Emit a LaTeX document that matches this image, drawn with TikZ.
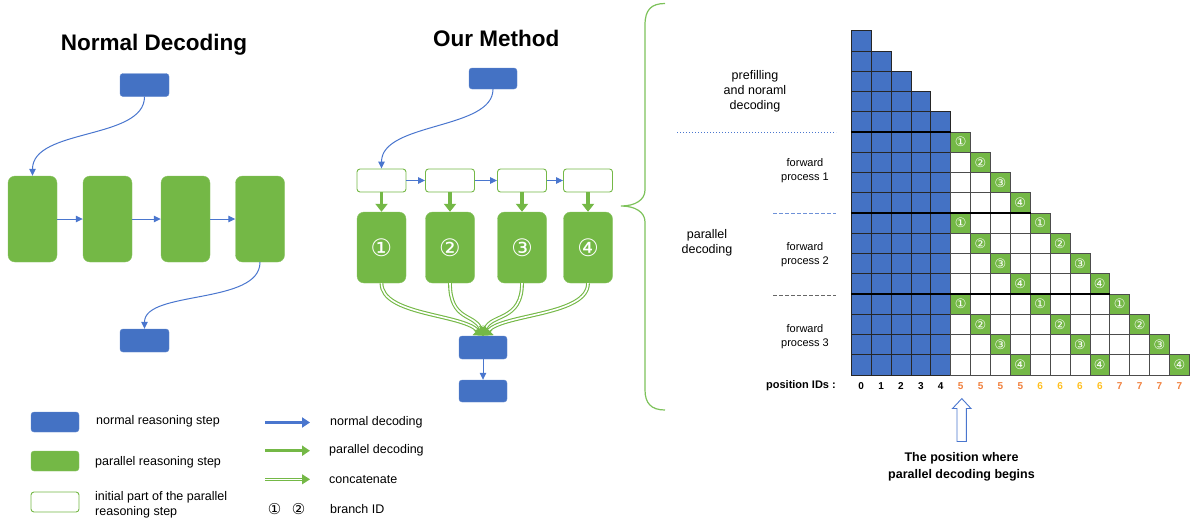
\documentclass[tikz,border=0pt]{standalone}
\usepackage{fontspec}
\setmainfont{Liberation Sans}
\newfontfamily\symfont{DejaVu Sans}
\usetikzlibrary{arrows.meta}
\definecolor{nblue}{HTML}{4472C4}
\definecolor{ngreen}{HTML}{74B846}
\definecolor{lgreen}{HTML}{7DC25A}
\definecolor{nblueline}{HTML}{4A76CE}
\definecolor{porange}{HTML}{F07F3C}
\definecolor{pgold}{HTML}{FFBF1F}
\newcommand\cnum[1]{{\symfont\ifcase#1\or ①\or ②\or ③\or ④\fi}}
\begin{document}
\begin{tikzpicture}[x=1pt,y=-1pt,
  bbox/.style={fill=nblue, draw=nblue!85!white, rounded corners=3pt, minimum width=49pt, minimum height=23pt, inner sep=0pt},
  gbox/.style={fill=ngreen, draw=ngreen!85!white, rounded corners=7pt, minimum width=49pt, inner sep=0pt, text=white},
  wbox/.style={fill=white, draw=ngreen, line width=0.9pt, rounded corners=3pt, minimum width=49pt, minimum height=23pt, inner sep=0pt},
  narrow/.style={draw=nblueline, line width=1pt, -{Triangle[length=7pt,width=6.5pt]}},
  parrow/.style={draw=ngreen, line width=3.5pt, -{Triangle[length=8pt,width=12pt]}},
  concat/.style={draw=ngreen, line width=1.1pt, double=white, double distance=1.6pt, -{Triangle[length=8pt,width=14pt]}},
  title/.style={font=\bfseries\fontsize{22.5}{26}\selectfont, inner sep=0pt, anchor=base},
  lbl/.style={font=\fontsize{12.5}{15}\selectfont, inner sep=0pt, align=center},
  slbl/.style={font=\fontsize{11}{14}\selectfont, inner sep=0pt, align=center},
  bcell/.style={fill=nblue, draw=black!85, line width=0.7pt, minimum width=19.88pt, minimum height=20.25pt, inner sep=0pt},
  gcell/.style={fill=ngreen, draw=black!70, line width=0.7pt, minimum width=19.88pt, minimum height=20.25pt, inner sep=0pt, text=white, font=\fontsize{13}{13}\selectfont},
  wcell/.style={fill=white, draw=black!70, line width=0.7pt, minimum width=19.88pt, minimum height=20.25pt, inner sep=0pt},
  pid/.style={font=\bfseries\fontsize{10}{12}\selectfont, inner sep=0pt},
  bracestyle/.style={draw=lgreen, line width=1.2pt},
  legarrow/.style={line width=2.8pt, -{Triangle[length=8pt,width=10pt]}},
]
\useasboundingbox (0,0) rectangle (1198,520);

% ---------- Normal decoding ----------
\node[title] (t1) at (154,50) {Normal Decoding};
\node[bbox] (ntop) at (144.5,85) {};
\node[gbox, minimum height=86pt] (g1) at (32.5,219) {};
\node[gbox, minimum height=86pt] (g2) at (107.5,219) {};
\node[gbox, minimum height=86pt] (g3) at (185.5,219) {};
\node[gbox, minimum height=86pt] (g4) at (260,219) {};
\node[bbox] (nbot) at (144.5,340.5) {};
\draw[narrow] (ntop.south) .. controls (144.5,140) and (32.5,128) .. (g1.north);
\draw[narrow] (g1.east) -- (g2.west);
\draw[narrow] (g2.east) -- (g3.west);
\draw[narrow] (g3.east) -- (g4.west);
\draw[narrow] (g4.south) .. controls (260,305) and (144.5,290) .. (nbot.north);

% ---------- Our method ----------
\node[title] (t2) at (496.3,46.7) {Our Method};
\node[bbox, minimum width=48pt, minimum height=21pt] (mtop) at (493,78.5) {};
\node[wbox] (w1) at (381.5,180.5) {};
\node[wbox] (w2) at (450,180.5) {};
\node[wbox] (w3) at (522,180.5) {};
\node[wbox] (w4) at (588,180.5) {};
\node[gbox, minimum height=71pt, font=\fontsize{24}{24}\selectfont] (p1) at (381.5,247.5) {\cnum1};
\node[gbox, minimum height=71pt, font=\fontsize{24}{24}\selectfont] (p2) at (450,247.5) {\cnum2};
\node[gbox, minimum height=71pt, font=\fontsize{24}{24}\selectfont] (p3) at (522,247.5) {\cnum3};
\node[gbox, minimum height=71pt, font=\fontsize{24}{24}\selectfont] (p4) at (588,247.5) {\cnum4};
\node[bbox, minimum width=48pt] (m1) at (483,347.5) {};
\node[bbox, minimum width=48pt, minimum height=22pt] (m2) at (483,391) {};
\draw[narrow] (mtop.south) .. controls (493,130) and (381.5,122) .. (w1.north);
\draw[narrow] (w1.east) -- (w2.west);
\draw[narrow] (w2.east) -- (w3.west);
\draw[narrow] (w3.east) -- (w4.west);
\foreach \i in {1,2,3,4}{\draw[parrow] (w\i.south) -- (p\i.north);}
\draw[concat] (p1.south) .. controls +(0,32) and +(-22,-22) .. (m1.north);
\draw[concat] (p2.south) .. controls +(0,38) and +(-8,-22) .. (m1.north);
\draw[concat] (p3.south) .. controls +(0,38) and +(8,-22) .. (m1.north);
\draw[concat] (p4.south) .. controls +(0,32) and +(22,-22) .. (m1.north);
\draw[narrow] (m1.south) -- (m2.north);

% ---------- Brace ----------
\draw[bracestyle] (665,3.5) .. controls (651,3.5) and (645,10) .. (645,25)
  -- (645,190) .. controls (645,200) and (635,206) .. (621,206)
  .. controls (635,206) and (645,212) .. (645,222)
  -- (645,390) .. controls (645,403) and (651,410) .. (665,410);

% ---------- Mask matrix ----------
\foreach \r in {0,...,16}{
  \pgfmathtruncatemacro{\nb}{min(\r,4)}
  \foreach \c in {0,...,\nb}{
    \node[bcell] (cell-\r-\c) at ({851.3+(\c+0.5)*19.88},{30.75+(\r+0.5)*20.25}) {};
  }
  \ifnum\r>4
    \pgfmathtruncatemacro{\rp}{div(\r-5,4)}
    \pgfmathtruncatemacro{\rk}{mod(\r-5,4)}
    \pgfmathtruncatemacro{\rl}{5+4*\rp+\rk}
    \pgfmathtruncatemacro{\rn}{\rk+1}
    \foreach \c in {5,...,\rl}{
      \pgfmathtruncatemacro{\cm}{mod(\c-5,4)}
      \ifnum\cm=\rk
        \node[gcell] (cell-\r-\c) at ({851.3+(\c+0.5)*19.88},{30.75+(\r+0.5)*20.25}) {\cnum{\rn}};
      \else
        \node[wcell] (cell-\r-\c) at ({851.3+(\c+0.5)*19.88},{30.75+(\r+0.5)*20.25}) {};
      \fi
    }
  \fi
}
\draw[line width=2.2pt] (cell-5-0.north west) -- (cell-5-4.north east);
\draw[line width=2.2pt] (cell-9-0.north west) -- (cell-9-8.north east);
\draw[line width=2.2pt] (cell-13-0.north west) -- (cell-13-12.north east);

% labels on the left of the matrix
\node[lbl] (prefill) at (755,91) {prefilling\\and noraml\\decoding};
\draw[nblueline, line width=1pt, dash pattern=on 1pt off 2pt] (677,132) -- (836,132);
\node[slbl] (fp1) at (805,171) {forward\\process 1};
\draw[nblueline!80, line width=0.7pt, dash pattern=on 4pt off 2pt] (773,213) -- (836,213);
\node[slbl] (fp2) at (805,255) {forward\\process 2};
\draw[black!60, line width=0.7pt, dash pattern=on 4pt off 2pt] (773,295) -- (836,295);
\node[slbl] (fp3) at (805,337) {forward\\process 3};
\node[lbl] (pd) at (707,242.5) {parallel\\decoding};

% position ids
\node[pid, anchor=east, font=\bfseries\fontsize{11}{13}\selectfont] (pidlbl) at (836,386) {position IDs :};
\foreach \c/\v/\col in {0/0/black,1/1/black,2/2/black,3/3/black,4/4/black,
  5/5/porange,6/5/porange,7/5/porange,8/5/porange,
  9/6/pgold,10/6/pgold,11/6/pgold,12/6/pgold,
  13/7/porange,14/7/porange,15/7/porange,16/7/porange}{
  \node[pid, text=\col] (pid-\c) at ({851.3+(\c+0.5)*19.88},386) {\v};
}
\draw[nblueline, line width=0.9pt, fill=white] (957,441.5) -- (957,408.5) -- (952.5,408.5) -- (961.8,398.6) -- (971,408.5) -- (966.3,408.5) -- (966.3,441.5) -- cycle;
\node[lbl, font=\bfseries\fontsize{12.5}{17.5}\selectfont] (begin) at (961.5,467) {The position where\\parallel decoding begins};

% ---------- Legend ----------
\node[bbox, minimum width=48pt, minimum height=20pt] (lgb) at (55,422) {};
\node[lbl, anchor=west] (lgbt) at (96,421) {normal reasoning step};
\node[gbox, rounded corners=3pt, minimum width=48pt, minimum height=20pt] (lgg) at (55,461) {};
\node[lbl, anchor=west] (lggt) at (95,462) {parallel reasoning step};
\node[wbox, minimum width=48pt, minimum height=20pt] (lgw) at (55,502) {};
\node[lbl, anchor=west, align=left] (lgwt) at (95,504.5) {initial part of the parallel\\reasoning step};

\coordinate (la1) at (265,422.5); \coordinate (lb1) at (310,422.5);
\draw[draw=nblueline, legarrow] (la1) -- (lb1);
\node[lbl, anchor=west] (lat1) at (330,422.5) {normal decoding};
\coordinate (la2) at (265,450.7); \coordinate (lb2) at (310,450.7);
\draw[draw=ngreen, legarrow] (la2) -- (lb2);
\node[lbl, anchor=west] (lat2) at (329,450.7) {parallel decoding};
\coordinate (la3) at (265,479.3); \coordinate (lb3) at (310,479.3);
\draw[concat, line width=1pt, double distance=1.3pt, -{Triangle[length=8pt,width=10pt]}] (la3) -- (lb3);
\node[lbl, anchor=west] (lat3) at (329,479.3) {concatenate};
\node[inner sep=0pt, font=\fontsize{15}{15}\selectfont] (lc1) at (274.5,509.3) {\cnum1};
\node[inner sep=0pt, font=\fontsize{15}{15}\selectfont] (lc2) at (298.5,509.3) {\cnum2};
\node[lbl, anchor=west] (lat4) at (330,509.3) {branch ID};
\end{tikzpicture}
\end{document}
